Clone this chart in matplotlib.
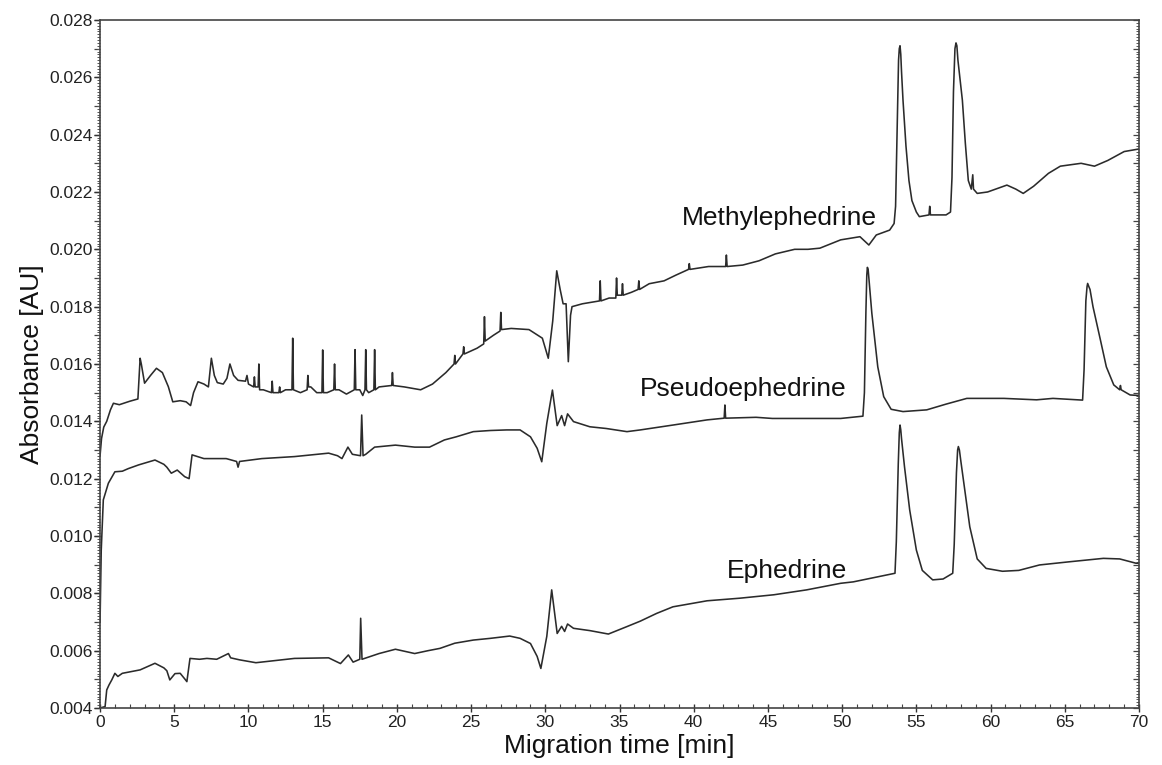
import numpy as np
import matplotlib
matplotlib.use("Agg")
import matplotlib.pyplot as plt
from matplotlib.ticker import MultipleLocator, FormatStrFormatter

plt.rcParams['font.family'] = ['Liberation Sans', 'DejaVu Sans']

# ---- data (time [min], absorbance [AU]) ----
methylephedrine = [
    (0.0, 0.0128), (0.1, 0.0134), (0.25, 0.0138), (0.45, 0.0140), (0.7, 0.0144), (0.9, 0.01463),
    (1.3, 0.01458), (2.0, 0.01470), (2.55, 0.01478), (2.7, 0.0162), (2.78, 0.0160), (3.0, 0.01533),
    (3.4, 0.0156), (3.8, 0.01585), (4.2, 0.0157), (4.6, 0.01521), (4.9, 0.01468), (5.4, 0.01472),
    (5.8, 0.01468), (6.1, 0.01455), (6.3, 0.0150), (6.6, 0.01538), (7.0, 0.01530), (7.3, 0.01520),
    (7.5, 0.0162), (7.7, 0.0156), (7.9, 0.01535), (8.3, 0.01530), (8.55, 0.0155), (8.75, 0.0160),
    (9.0, 0.0156), (9.3, 0.01543), (9.8, 0.01540), (9.9, 0.0156), (10.0, 0.0153), (10.35, 0.0152),
    (10.4, 0.01555), (10.45, 0.0152), (10.65, 0.0152), (10.7, 0.0160), (10.75, 0.0151), (11.0, 0.0151),
    (11.55, 0.0150), (11.6, 0.0154), (11.65, 0.0150), (12.05, 0.0150), (12.1, 0.0152), (12.15, 0.0150),
    (12.5, 0.0151), (12.93, 0.0151), (12.98, 0.0169), (13.03, 0.0151), (13.5, 0.0150), (13.95, 0.0151),
    (14.0, 0.0156), (14.05, 0.0152), (14.2, 0.0152), (14.6, 0.0150), (14.95, 0.0150), (15.0, 0.01649),
    (15.05, 0.0150), (15.3, 0.0150), (15.75, 0.0151), (15.8, 0.0160), (15.85, 0.0151), (16.1, 0.0151),
    (16.6, 0.01495), (17.13, 0.0151), (17.18, 0.0165), (17.23, 0.0151), (17.5, 0.0151), (17.7, 0.0149),
    (17.85, 0.0151), (17.9, 0.0165), (17.95, 0.0151), (18.1, 0.0150), (18.45, 0.0151), (18.5, 0.0165),
    (18.55, 0.0151), (18.8, 0.0152), (19.65, 0.01525), (19.7, 0.0157), (19.75, 0.01525), (20.5, 0.0152),
    (21.6, 0.0151), (22.4, 0.0153), (23.3, 0.0157), (23.85, 0.0160), (23.9, 0.0163), (23.95, 0.0160),
    (24.45, 0.01635), (24.5, 0.0166), (24.55, 0.01635), (25.4, 0.01655), (25.85, 0.0167), (25.9, 0.01765),
    (25.95, 0.0168), (26.5, 0.0170), (26.95, 0.01715), (27.0, 0.0178), (27.05, 0.0172), (27.7, 0.01724),
    (28.9, 0.0172), (29.5, 0.0170), (29.8, 0.0169), (30.2, 0.0162), (30.5, 0.0175), (30.77, 0.01925),
    (31.0, 0.0186), (31.2, 0.0181), (31.4, 0.0181), (31.55, 0.01608), (31.7, 0.0177), (31.8, 0.0180),
    (32.5, 0.0181), (33.65, 0.0182), (33.7, 0.0189), (33.75, 0.0182), (34.3, 0.0183), (34.75, 0.0183),
    (34.8, 0.0190), (34.85, 0.0184), (35.15, 0.0184), (35.2, 0.0188), (35.25, 0.0184), (35.8, 0.0185),
    (36.25, 0.0186), (36.3, 0.0189), (36.35, 0.0186), (37.0, 0.0188), (38.0, 0.0189), (38.8, 0.0191),
    (39.65, 0.0193), (39.7, 0.0195), (39.75, 0.0193), (41.0, 0.0194), (42.15, 0.0194), (42.2, 0.0198),
    (42.25, 0.0194), (43.3, 0.01945), (44.4, 0.0196), (45.5, 0.01984), (46.8, 0.0200), (47.7, 0.0200),
    (48.5, 0.02004), (49.9, 0.02033), (51.2, 0.02044), (51.8, 0.02015), (52.3, 0.0205), (53.2, 0.02067),
    (53.5, 0.0209), (53.6, 0.0215), (53.7, 0.0240), (53.8, 0.0266), (53.85, 0.0270), (53.9, 0.0271),
    (53.95, 0.0268), (54.0, 0.0262), (54.1, 0.0252), (54.3, 0.0236), (54.5, 0.0224), (54.7, 0.0217),
    (55.0, 0.0213), (55.2, 0.02114), (55.85, 0.0212), (55.9, 0.0215), (55.95, 0.0212), (57.0, 0.0212),
    (57.3, 0.0213), (57.4, 0.0225), (57.5, 0.0255), (57.6, 0.0270), (57.67, 0.0272), (57.73, 0.0271),
    (57.8, 0.0266), (58.1, 0.0252), (58.3, 0.0237), (58.5, 0.0224), (58.7, 0.0221), (58.8, 0.0226),
    (58.85, 0.0221), (59.1, 0.02195), (59.8, 0.0220), (61.1, 0.02224), (61.7, 0.0221), (62.2, 0.02195),
    (62.9, 0.0222), (63.9, 0.02265), (64.7, 0.0229), (66.1, 0.0230), (67.0, 0.0229), (67.9, 0.0231),
    (69.0, 0.02341), (70.0, 0.0235),
]

pseudoephedrine = [
    (0.0, 0.0070), (0.08, 0.0095), (0.22, 0.01126), (0.56, 0.01184), (1.0, 0.01224), (1.5, 0.01226),
    (1.9, 0.01235), (2.6, 0.01248), (3.7, 0.01265), (4.3, 0.0125), (4.5, 0.0124), (4.8, 0.01219),
    (5.2, 0.0123), (5.7, 0.01207), (6.0, 0.0120), (6.2, 0.01283), (7.0, 0.0127), (8.5, 0.0127),
    (9.2, 0.0126), (9.3, 0.0124), (9.4, 0.0126), (10.9, 0.0127), (13.1, 0.01277), (15.4, 0.01289),
    (16.0, 0.0128), (16.3, 0.0127), (16.7, 0.0131), (17.0, 0.01285), (17.55, 0.0128), (17.63, 0.01422),
    (17.72, 0.0128), (17.9, 0.01285), (18.5, 0.0131), (19.9, 0.01317), (21.2, 0.0131), (22.2, 0.0131),
    (23.2, 0.01335), (24.0, 0.01346), (25.15, 0.01364), (26.3, 0.01368), (27.4, 0.0137), (28.3, 0.0137),
    (29.0, 0.01346), (29.45, 0.01306), (29.76, 0.01259), (30.1, 0.01393), (30.48, 0.01509), (30.8, 0.01385),
    (31.1, 0.0142), (31.3, 0.01385), (31.5, 0.01426), (31.9, 0.01399), (33.0, 0.01381), (34.1, 0.01375),
    (35.5, 0.01364), (36.4, 0.0137), (38.6, 0.01387), (40.9, 0.01405), (42.05, 0.01411), (42.1, 0.01457),
    (42.15, 0.01411), (44.2, 0.01414), (45.3, 0.0141), (47.6, 0.0141), (49.9, 0.0141), (51.4, 0.01418),
    (51.5, 0.0150), (51.6, 0.0178), (51.66, 0.0191), (51.7, 0.01937), (51.75, 0.0193), (51.8, 0.0190),
    (52.0, 0.01777), (52.4, 0.0159), (52.8, 0.01486), (53.3, 0.01442), (54.1, 0.01434), (55.7, 0.0144),
    (57.0, 0.0146), (58.4, 0.0148), (60.9, 0.0148), (63.1, 0.01475), (64.2, 0.0148), (66.2, 0.01474),
    (66.3, 0.0158), (66.42, 0.0182), (66.5, 0.0187), (66.54, 0.01881), (66.62, 0.0187), (66.7, 0.0186),
    (66.9, 0.0180), (67.4, 0.01684), (67.8, 0.0159), (68.3, 0.01527), (68.7, 0.0151), (68.75, 0.01525),
    (68.8, 0.0151), (69.4, 0.01492), (70.0, 0.0149),
]

ephedrine = [
    (0.0, 0.0040), (0.34, 0.00405), (0.45, 0.00463), (0.6, 0.0048), (0.79, 0.00498), (1.0, 0.00521),
    (1.2, 0.0051), (1.5, 0.00521), (2.7, 0.00533), (3.7, 0.00556), (4.3, 0.0054), (4.5, 0.0053),
    (4.7, 0.00498), (5.05, 0.0052), (5.4, 0.00521), (5.73, 0.0050), (5.85, 0.00492), (6.06, 0.00573),
    (6.7, 0.0057), (7.2, 0.00573), (7.86, 0.0057), (8.65, 0.0059), (8.8, 0.00575), (9.4, 0.00568),
    (10.5, 0.00558), (13.1, 0.00573), (15.4, 0.00575), (16.2, 0.00555), (16.73, 0.00585), (17.05, 0.0056),
    (17.5, 0.0057), (17.56, 0.00713), (17.65, 0.0057), (18.8, 0.0059), (19.9, 0.00605), (21.2, 0.0059),
    (22.1, 0.0060), (22.9, 0.00608), (23.9, 0.00626), (25.15, 0.00637), (26.3, 0.00643), (27.6, 0.00651),
    (28.3, 0.00643), (29.0, 0.00625), (29.45, 0.0058), (29.7, 0.00538), (30.1, 0.0065), (30.43, 0.00812),
    (30.8, 0.0066), (31.1, 0.00685), (31.3, 0.00667), (31.5, 0.00693), (31.9, 0.00678), (33.0, 0.0067),
    (34.25, 0.00658), (35.5, 0.00684), (36.4, 0.00703), (37.5, 0.0073), (38.6, 0.00753), (40.9, 0.00774),
    (43.1, 0.00783), (45.4, 0.00795), (47.6, 0.00812), (49.9, 0.00835), (50.75, 0.0084), (53.56, 0.0087),
    (53.65, 0.0098), (53.78, 0.0125), (53.85, 0.0136), (53.9, 0.01387), (53.95, 0.0137), (54.0, 0.0134),
    (54.2, 0.01242), (54.55, 0.01091), (55.0, 0.00951), (55.4, 0.0088), (56.1, 0.00847), (56.8, 0.0085),
    (57.45, 0.0087), (57.55, 0.0097), (57.7, 0.0122), (57.78, 0.0130), (57.83, 0.01312), (57.9, 0.0130),
    (58.0, 0.0126), (58.2, 0.01184), (58.6, 0.01032), (59.1, 0.0092), (59.7, 0.00887), (60.8, 0.00877),
    (61.9, 0.0088), (63.3, 0.00899), (65.3, 0.0091), (67.6, 0.00922), (68.7, 0.0092), (69.8, 0.00905),
    (70.0, 0.00905),
]

series_labels = ["Methylephedrine", "Pseudoephedrine", "Ephedrine"]
label_anchor_t = [39.2, 36.4, 42.2]
label_anchor_v = [0.02109, 0.01513, 0.00879]

x_label = "Migration time [min]"
y_label = "Absorbance [AU]"

# ---- figure ----
fig = plt.figure(figsize=(11.62, 7.65), dpi=100)
ax = fig.add_axes([0.0861, 0.0745, 0.8941, 0.8994])

line_color = '#2b2b2b'
for data in (methylephedrine, pseudoephedrine, ephedrine):
    arr = np.array(data)
    ax.plot(arr[:, 0], arr[:, 1], color=line_color, lw=1.15, solid_joinstyle='round')

for lab, tt, vv in zip(series_labels, label_anchor_t, label_anchor_v):
    ax.text(tt, vv, lab, fontsize=19, color='#111111', ha='left', va='center')

ax.set_xlim(0, 70)
ax.set_ylim(0.004, 0.028)

ax.xaxis.set_major_locator(MultipleLocator(5))
ax.xaxis.set_minor_locator(MultipleLocator(1))
ax.yaxis.set_major_locator(MultipleLocator(0.002))
ax.yaxis.set_minor_locator(MultipleLocator(0.0001))
ax.yaxis.set_major_formatter(FormatStrFormatter('%.3f'))

ax.tick_params(axis='x', which='major', direction='inout', length=6, width=1, labelsize=12.5,
               colors='#333333', labelcolor='#222222', pad=2)
ax.tick_params(axis='x', which='minor', direction='in', length=3, width=0.8, colors='#444444')
ax.tick_params(axis='y', which='major', direction='out', length=4, width=1, labelsize=12.5,
               right=False, colors='#333333', labelcolor='#222222', pad=1)
ax.tick_params(axis='y', which='minor', direction='out', length=2, width=0.7, right=False, colors='#555555')

# medium ticks every 0.001 on the left spine
sec_l = ax.secondary_yaxis('left')
sec_l.yaxis.set_major_locator(MultipleLocator(0.001))
sec_l.tick_params(length=4, width=0.9, labelleft=False, colors='#444444')
sec_l.spines['left'].set_visible(False)

# right spine: inward ticks
sec_r = ax.secondary_yaxis('right')
sec_r.yaxis.set_major_locator(MultipleLocator(0.001))
sec_r.yaxis.set_minor_locator(MultipleLocator(0.0001))
sec_r.tick_params(which='major', direction='in', length=4, width=0.9, labelright=False, colors='#444444')
sec_r.tick_params(which='minor', direction='in', length=2, width=0.7, colors='#555555')
sec_r.spines['right'].set_visible(False)

for s in ax.spines.values():
    s.set_color('#444444')
    s.set_linewidth(1.2)

ax.set_xlabel(x_label, fontsize=19, color='#111111', labelpad=3)
ax.set_ylabel(y_label, fontsize=19, color='#111111', labelpad=4)

fig.savefig('out.png', dpi=100, facecolor='white')
